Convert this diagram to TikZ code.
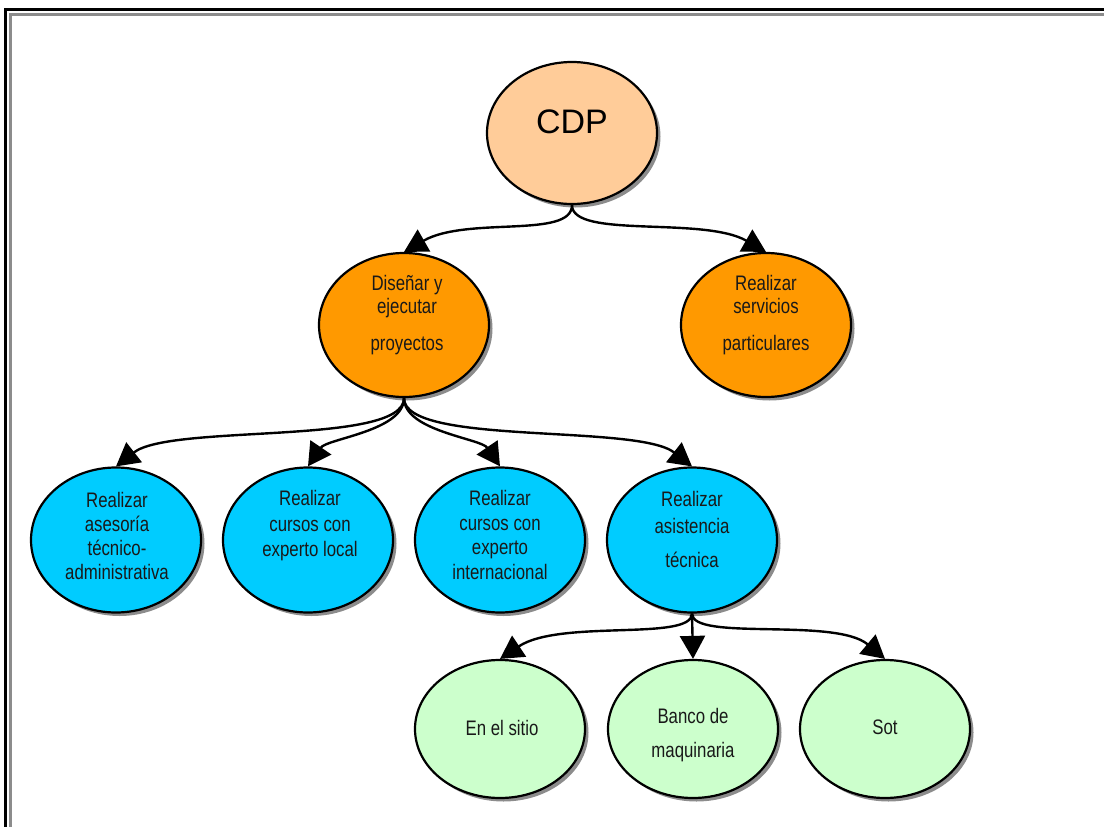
\documentclass[tikz,border=0pt]{standalone}
\usepackage{fontspec}
\setmainfont{Liberation Sans}
\newfontfamily\narrowfont[FakeStretch=0.8]{Liberation Sans}
\usetikzlibrary{arrows.meta,shapes.geometric,shadows}

\definecolor{peach}{HTML}{FFCC99}
\definecolor{orangefill}{HTML}{FF9900}
\definecolor{cyanfill}{HTML}{00CCFF}
\definecolor{mintfill}{HTML}{CCFFCC}

\begin{document}
\begin{tikzpicture}[x=1pt,y=-1pt,
  bubble/.style={ellipse, draw=black, line width=2.2pt, inner sep=0pt,
    minimum width=170pt, minimum height=144pt,
    drop shadow={shadow xshift=3.5pt, shadow yshift=-3.5pt, fill=black!45, opacity=1}},
  leafbubble/.style={bubble, minimum height=138pt},
  label text/.style={align=center, text=black!90,
    font=\narrowfont\fontsize{21}{24}\selectfont},
  conn/.style={line width=2.4pt, -{Triangle[length=23pt,width=25pt]}},
  frame/.style={line width=2.5pt}]

% page and double frame
\useasboundingbox (0,0) rectangle (1104,827);
\fill[white] (0,0) rectangle (1104,827);
\clip (0,0) rectangle (1104,827);
\draw[frame, black] (5.3,9.7) rectangle (1120,845);
\draw[frame, black!45] (10.7,14.7) rectangle (1115,840);

% bubbles
\node[bubble, fill=peach, minimum height=142pt] (cdp) at (572,133) {};
\node[bubble, fill=orangefill] (dis) at (404,325) {};
\node[bubble, fill=orangefill] (ser) at (766,325) {};
\node[bubble, fill=cyanfill, minimum height=145pt] (ase) at (116,540) {};
\node[bubble, fill=cyanfill, minimum height=145pt] (loc) at (308,540) {};
\node[bubble, fill=cyanfill, minimum height=145pt] (int) at (500,540) {};
\node[bubble, fill=cyanfill, minimum height=145pt] (asi) at (692,540) {};
\node[leafbubble, fill=mintfill] (sit) at (500,729) {};
\node[leafbubble, fill=mintfill] (ban) at (693,729) {};
\node[leafbubble, fill=mintfill] (sot) at (885,729) {};

% texts
\node[text=black, font=\fontsize{34}{40}\selectfont] (cdp-t) at (572,122) {CDP};
\node[label text, font=\narrowfont\fontsize{21}{23}\selectfont] (dis-t) at (407,315)
  {Diseñar y\\ejecutar\\[14pt]proyectos};
\node[label text, font=\narrowfont\fontsize{21}{23}\selectfont] (ser-t) at (766,315)
  {Realizar\\servicios\\[14pt]particulares};
\node[label text, font=\narrowfont\fontsize{21}{24.3}\selectfont] (ase-t) at (117,536)
  {Realizar\\asesoría\\técnico-\\administrativa};
\node[label text, font=\narrowfont\fontsize{21}{25.5}\selectfont] (loc-t) at (310,526)
  {Realizar\\cursos con\\experto local};
\node[label text, font=\narrowfont\fontsize{21}{24.7}\selectfont] (int-t) at (500,535)
  {Realizar\\cursos con\\experto\\internacional};
\node[label text, font=\narrowfont\fontsize{21}{27}\selectfont] (asi-t) at (692,529)
  {Realizar\\asistencia\\[7pt]técnica};
\node[label text] (sit-t) at (502,728) {En el sitio};
\node[label text, font=\narrowfont\fontsize{21}{34}\selectfont] (ban-t) at (693,735)
  {Banco de\\maquinaria};
\node[label text] (sot-t) at (885,727) {Sot};

% connectors
\draw[conn] (cdp.south) .. controls +(0,34) and +(63,-36) .. (dis.north);
\draw[conn] (cdp.south) .. controls +(0,34) and +(-63,-36) .. (ser.north);

\draw[conn] (dis.south) .. controls +(0,48) and +(55,-43) .. (ase.north);
\draw[conn] (dis.south) .. controls +(0,33) and +(19,-28) .. (loc.north);
\draw[conn] (dis.south) .. controls +(0,33) and +(-19,-28) .. (int.north);
\draw[conn] (dis.south) .. controls +(0,48) and +(-55,-43) .. (asi.north);

\draw[conn] (asi.south) .. controls +(0,28) and +(60,-40) .. (sit.north);
\draw[conn] (asi.south) -- (ban.north);
\draw[conn] (asi.south) .. controls +(0,28) and +(-50,-42) .. (sot.north);

\end{tikzpicture}
\end{document}
